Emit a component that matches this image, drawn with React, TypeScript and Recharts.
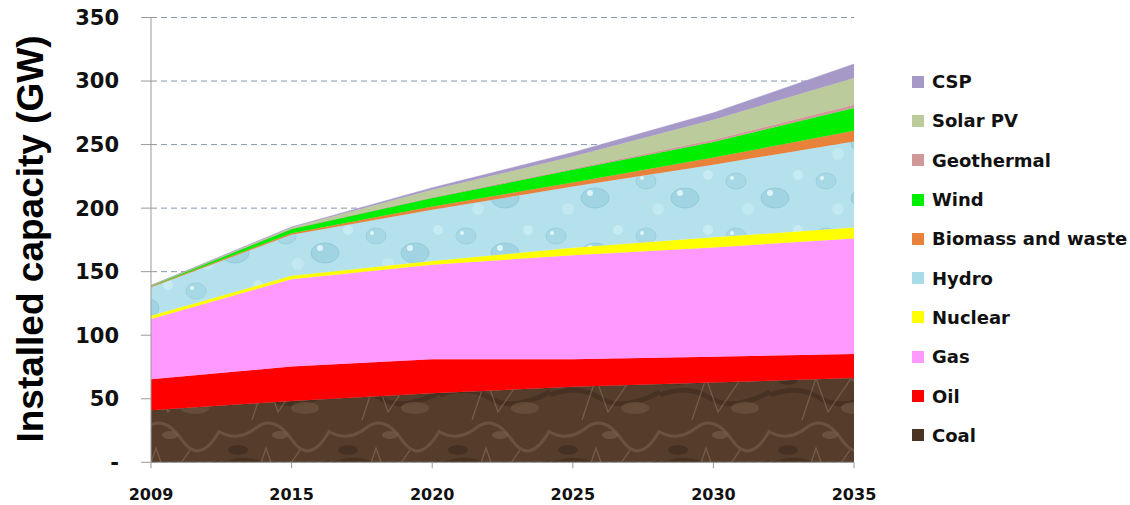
import React from 'react';
import { AreaChart, Area, XAxis, YAxis, CartesianGrid } from 'recharts';

const years = ['2009', '2015', '2020', '2025', '2030', '2035'];
const coal = [41, 48.3, 54.3, 59.5, 62.7, 66.4];
const oil = [24.4, 27, 26.8, 21.6, 20.3, 18.8];
const gas = [47.4, 68.8, 74.3, 81.9, 86, 91];
const nuclear = [2.5, 2.6, 2.9, 5.8, 8, 8.5];
const hydro = [22.5, 32.3, 40.4, 48.2, 57.2, 67.7];
const biomass = [0.5, 1.3, 2.6, 3.2, 5.6, 8.5];
const wind = [0.5, 3.2, 6.6, 10, 12.2, 17.8];
const geothermal = [0.1, 0.2, 0.4, 0.8, 1.8, 2.6];
const solarPV = [0.2, 1.1, 6.1, 9.6, 15.7, 21.1];
const csp = [0.1, 0.4, 1.6, 3.2, 5.5, 11];
const yTicks = [0, 50, 100, 150, 200, 250, 300, 350];

const seriesDefs = [
  { key: 'Coal', values: coal, color: '#4a3322', fill: 'url(#coalPat)' },
  { key: 'Oil', values: oil, color: '#ff0000', fill: '#ff0000' },
  { key: 'Gas', values: gas, color: '#ff99ff', fill: '#ff99ff' },
  { key: 'Nuclear', values: nuclear, color: '#ffff00', fill: '#ffff00' },
  { key: 'Hydro', values: hydro, color: '#a9dbe8', fill: 'url(#hydroPat)' },
  { key: 'Biomass and waste', values: biomass, color: '#e8823a', fill: '#e8823a' },
  { key: 'Wind', values: wind, color: '#00ee00', fill: '#00ee00' },
  { key: 'Geothermal', values: geothermal, color: '#d09898', fill: '#d09898' },
  { key: 'Solar PV', values: solarPV, color: '#bccb9c', fill: '#bccb9c' },
  { key: 'CSP', values: csp, color: '#a699c8', fill: '#a699c8' },
];

const data = years.map((y, i) => {
  const row: Record<string, any> = { year: y };
  seriesDefs.forEach((s) => {
    row[s.key] = s.values[i];
  });
  return row;
});

const FONT = '"DejaVu Sans", Verdana, sans-serif';

const LegendBox = () => (
  <div
    style={{
      position: 'absolute',
      left: 912,
      top: 62,
      width: 218,
      fontFamily: FONT,
      fontWeight: 'bold',
      fontSize: 18,
      color: '#111',
    }}
  >
    {[...seriesDefs].reverse().map((s) => (
      <div key={s.key} style={{ display: 'flex', alignItems: 'center', height: 39.3, whiteSpace: 'nowrap' }}>
        <div style={{ width: 12, height: 12, background: s.color, marginRight: 8, flex: 'none' }} />
        <span>{s.key}</span>
      </div>
    ))}
  </div>
);

const YLabel = () => (
  <text
    x={30}
    y={239}
    transform="rotate(-90, 30, 239)"
    textAnchor="middle"
    dominantBaseline="central"
    style={{ fontFamily: '"Liberation Sans", Arial, sans-serif', fontWeight: 'bold', fontSize: 37, fill: '#000' }}
  >
    Installed capacity (GW)
  </text>
);

export default function App() {
  return (
    <div style={{ position: 'absolute', left: 0, top: 0, width: 1130, height: 505, background: '#fff' }}>
      <AreaChart width={1130} height={505} data={data} margin={{ top: 17.5, right: 276, bottom: 12.7, left: 0 }}>
        <defs>
          <pattern id="coalPat" patternUnits="userSpaceOnUse" width="110" height="70">
            <rect width="110" height="70" fill="#553c2b" />
            <path d="M0 12 Q18 22 36 8 T72 20 T110 10" stroke="#7e6450" strokeWidth="3" fill="none" opacity="0.55" />
            <path d="M0 45 Q28 34 50 48 T110 42" stroke="#3a281b" strokeWidth="5" fill="none" opacity="0.55" />
            <path d="M32 70 L46 28 L58 62 L80 30" stroke="#9a806b" strokeWidth="1.2" fill="none" opacity="0.5" />
            <ellipse cx="85" cy="58" rx="14" ry="6" fill="#6e5440" opacity="0.7" />
            <ellipse cx="18" cy="30" rx="10" ry="5" fill="#3f2c1f" opacity="0.7" />
            <ellipse cx="60" cy="15" rx="8" ry="4" fill="#7a604b" opacity="0.6" />
          </pattern>
          <pattern id="hydroPat" patternUnits="userSpaceOnUse" width="90" height="55">
            <rect width="90" height="55" fill="#b4e1ec" />
            <ellipse cx="16" cy="16" rx="10" ry="8" fill="#a6d8e6" stroke="#9ccfdd" strokeWidth="1" />
            <ellipse cx="55" cy="33" rx="14" ry="10" fill="#a0d4e3" stroke="#94cadb" strokeWidth="1" />
            <circle cx="78" cy="10" r="5" fill="#c6ebf3" />
            <circle cx="28" cy="44" r="6" fill="#c2e8f2" />
            <circle cx="12" cy="13" r="2" fill="#e2f6fa" />
            <circle cx="50" cy="28" r="3" fill="#dcf3f8" />
          </pattern>
        </defs>
        <CartesianGrid vertical={false} strokeDasharray="6 4" stroke="#8797ab" />
        <XAxis
          dataKey="year"
          type="category"
          stroke="#999"
          tickSize={6}
          tickMargin={20}
          height={30}
          tick={{ fontFamily: FONT, fontWeight: 'bold', fontSize: 16, fill: '#111' }}
        />
        <YAxis
          domain={[0, 350]}
          ticks={yTicks}
          width={151}
          stroke="#999"
          tickSize={10}
          tickMargin={22}
          tickFormatter={(v: number) => (v === 0 ? '-' : String(v))}
          tick={{ fontFamily: FONT, fontWeight: 'bold', fontSize: 21, fill: '#111' }}
          label={<YLabel />}
        />
        {seriesDefs.map((s) => (
          <Area
            key={s.key}
            type="linear"
            dataKey={s.key}
            stackId="1"
            fill={s.fill}
            fillOpacity={1}
            stroke={s.color}
            strokeWidth={0.5}
            isAnimationActive={false}
            dot={false}
            activeDot={false}
          />
        ))}
      </AreaChart>
      <LegendBox />
    </div>
  );
}
